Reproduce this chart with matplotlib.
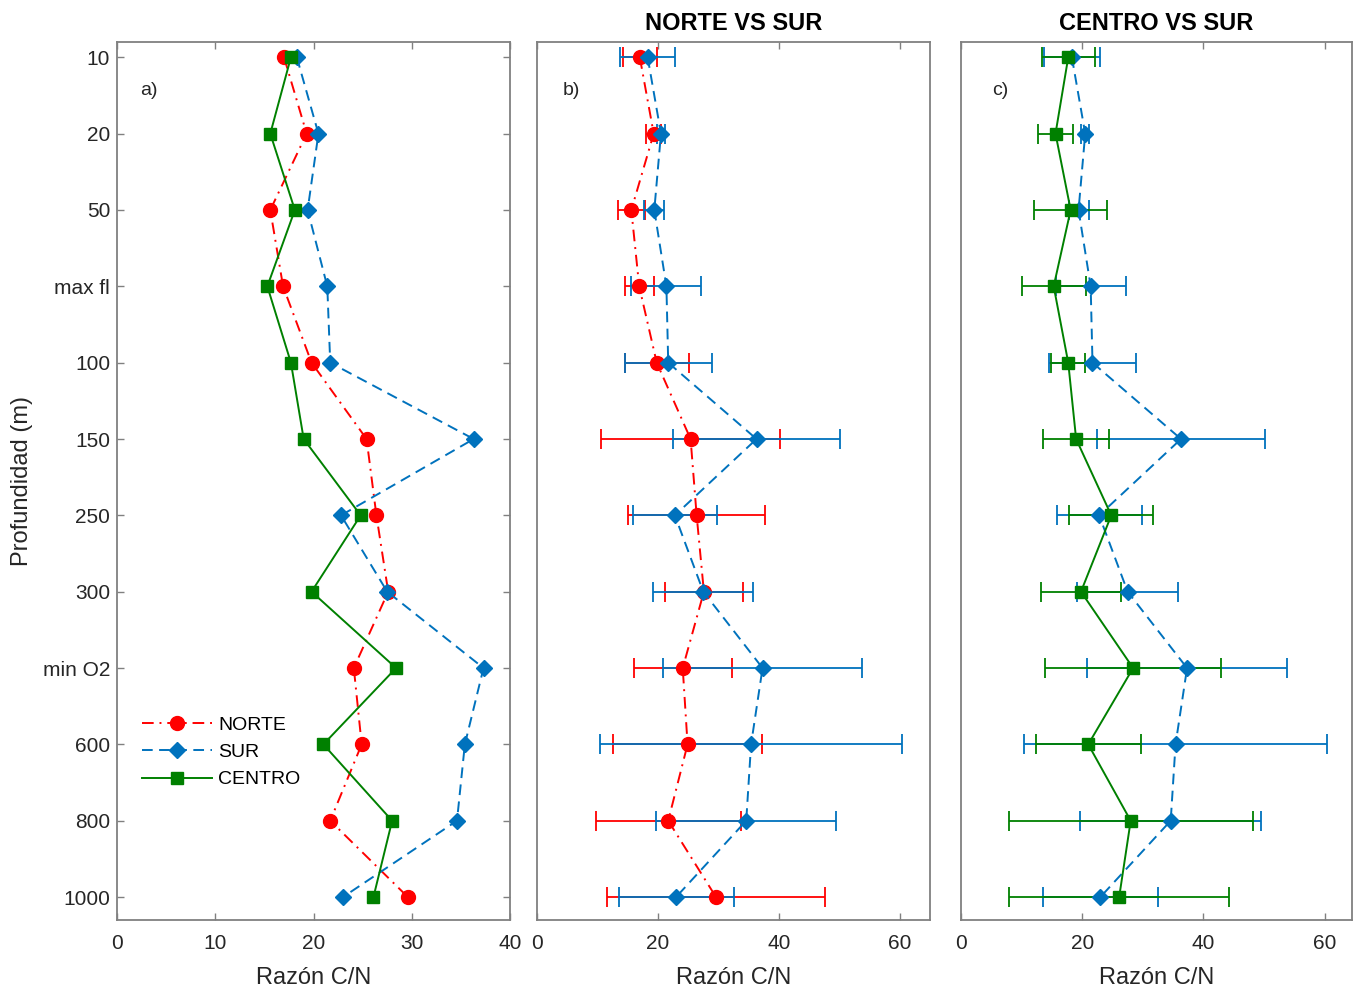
import numpy as np
import matplotlib
matplotlib.use("Agg")
import matplotlib.pyplot as plt

plt.rcParams['font.family'] = ['Liberation Sans', 'DejaVu Sans']

depths = ['10', '20', '50', 'max fl', '100', '150', '250', '300', 'min O2', '600', '800', '1000']

norte = [17.0, 19.3, 15.6, 16.9, 19.8, 25.4, 26.4, 27.6, 24.1, 24.9, 21.7, 29.6]
sur = [18.3, 20.5, 19.4, 21.4, 21.7, 36.3, 22.8, 27.5, 37.3, 35.4, 34.6, 23.0]
centro = [17.7, 15.6, 18.1, 15.3, 17.7, 19.0, 24.8, 19.8, 28.4, 21.0, 28.0, 26.1]

norte_err = [2.8, 1.2, 2.2, 2.4, 5.3, 14.8, 11.3, 6.4, 8.1, 12.3, 12.0, 18.0]
sur_err = [4.6, 0.7, 1.65, 5.8, 7.2, 13.8, 7.0, 8.3, 16.5, 25.0, 14.9, 9.5]
centro_err = [4.4, 2.9, 6.0, 5.3, 2.8, 5.5, 6.9, 6.6, 14.5, 8.7, 20.1, 18.1]

RED = '#FF0000'
BLUE = '#0072BD'
GREEN = '#008000'
TXT = '#262626'
SPINE = '#808080'

styles = {
    'NORTE': dict(color=RED, ls=(0, (6, 3, 1, 3)), marker='o', ms=10),
    'SUR': dict(color=BLUE, ls=(0, (5.5, 3.3)), marker='D', ms=8),
    'CENTRO': dict(color=GREEN, ls='-', marker='s', ms=8),
}

pos = np.arange(1, len(depths) + 1)

fig = plt.figure(figsize=(13.54, 9.89), dpi=100)
ax_a = fig.add_axes([0.0864, 0.0698, 0.2903, 0.8877])
ax_b = fig.add_axes([0.3966, 0.0698, 0.2903, 0.8877])
ax_c = fig.add_axes([0.7097, 0.0698, 0.2888, 0.8877])


def style_axis(ax, xmax, xticks):
    ax.set_ylim(12.3, 0.8)
    ax.set_xlim(0, xmax)
    ax.set_xticks(xticks)
    ax.tick_params(axis='both', direction='in', length=5, width=1.0, color=SPINE,
                   labelsize=15, labelcolor=TXT, top=True, right=True)
    ax.tick_params(axis='x', pad=10)
    ax.tick_params(axis='y', pad=5)
    for s in ax.spines.values():
        s.set_color(SPINE)
        s.set_linewidth(1.3)
    ax.set_xlabel('Razón C/N', fontsize=17, color=TXT, labelpad=10)


def plot_series(ax, vals, name, err=None):
    st = styles[name]
    if err is None:
        ax.plot(vals, pos, color=st['color'], ls=st['ls'], lw=1.4, marker=st['marker'],
                ms=st['ms'], label=name)
    else:
        ax.errorbar(vals, pos, xerr=err, color=st['color'], ls=st['ls'], lw=1.4,
                    marker=st['marker'], ms=st['ms'], capsize=7, capthick=1.3,
                    elinewidth=1.3, label=name)


# a) all three
plot_series(ax_a, norte, 'NORTE')
plot_series(ax_a, sur, 'SUR')
plot_series(ax_a, centro, 'CENTRO')
style_axis(ax_a, 40, [0, 10, 20, 30, 40])
ax_a.set_yticks(pos)
ax_a.set_yticklabels(depths)
ax_a.set_ylabel('Profundidad (m)', fontsize=17, color=TXT, labelpad=7)
ax_a.text(0.06, 0.94, 'a)', transform=ax_a.transAxes, fontsize=14, color=TXT)
ax_a.legend(loc='lower left', bbox_to_anchor=(0.02, 0.13), frameon=False, fontsize=14,
            handlelength=3.6, labelspacing=0.5, handletextpad=0.3)

# b) norte vs sur
plot_series(ax_b, norte, 'NORTE', norte_err)
plot_series(ax_b, sur, 'SUR', sur_err)
style_axis(ax_b, 65, [0, 20, 40, 60])
ax_b.set_yticks([])
ax_b.set_title('NORTE VS SUR', fontsize=17, fontweight='bold', pad=9)
ax_b.text(0.066, 0.94, 'b)', transform=ax_b.transAxes, fontsize=14, color=TXT)

# c) centro vs sur
plot_series(ax_c, sur, 'SUR', sur_err)
plot_series(ax_c, centro, 'CENTRO', centro_err)
style_axis(ax_c, 64.5, [0, 20, 40, 60])
ax_c.set_yticks([])
ax_c.set_title('CENTRO VS SUR', fontsize=17, fontweight='bold', pad=9)
ax_c.text(0.08, 0.94, 'c)', transform=ax_c.transAxes, fontsize=14, color=TXT)

fig.savefig('out.png', dpi=100)
